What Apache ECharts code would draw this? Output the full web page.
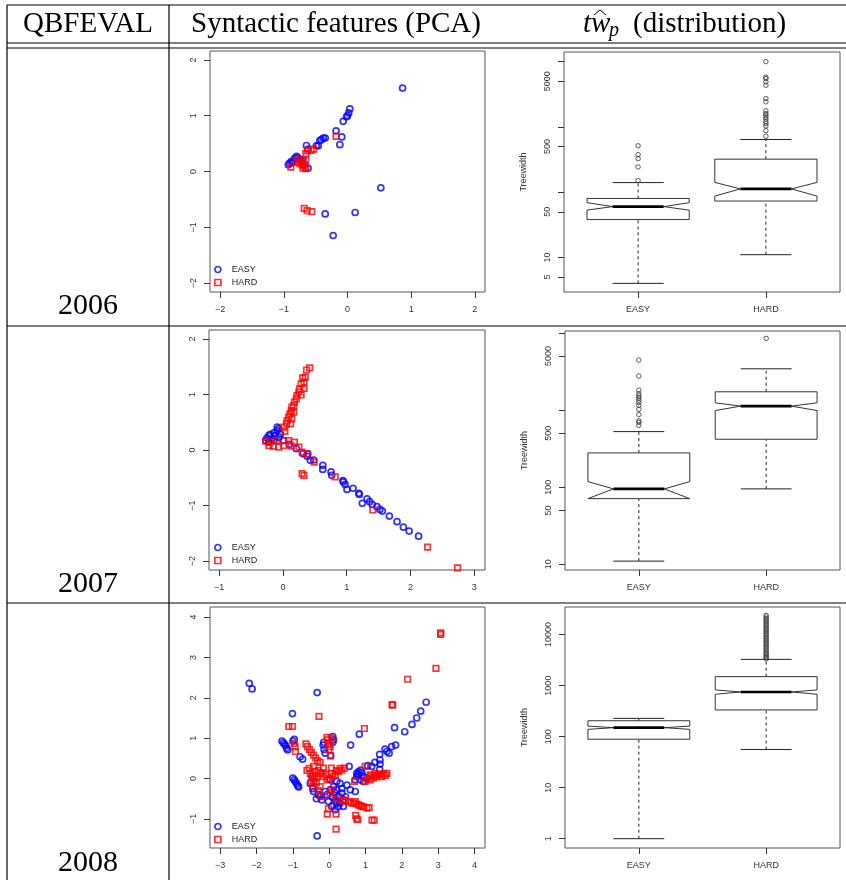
<!DOCTYPE html>
<html>
<head>
<meta charset="utf-8">
<script src="https://cdn.jsdelivr.net/npm/echarts@6/dist/echarts.min.js"></script>
<style>body{margin:0;background:#fff;}</style>
</head>
<body>
<div id="main" style="width:846px;height:880px;"></div>
<script>
var years = ['2006', '2007', '2008'];
var groups = ['EASY', 'HARD'];

// PCA scatter points [pc1, pc2]
var easy2006 = [[0.865,1.495],[0.037,1.124],[0.02,1.05],[0.0,1.0],[-0.016,0.98],[-0.068,0.90],[-0.18,0.73],
  [-0.09,0.62],[-0.12,0.48],[-0.35,0.60],[-0.38,0.60],[-0.41,0.57],[-0.435,0.556],[-0.46,0.46],[-0.49,0.46],
  [-0.645,0.466],[-0.62,0.40],[-0.8,0.27],[-0.83,0.24],[-0.88,0.18],[-0.91,0.15],[-0.93,0.12],[-0.75,0.21],
  [-0.70,0.21],[-0.62,0.06],[0.524,-0.293],[-0.35,-0.76],[0.12,-0.735],[-0.225,-1.148],[-0.78,0.25],
  [-0.86,0.16],[-0.72,0.18]];
var hard2006 = [[-0.18,0.63],[-0.53,0.40],[-0.57,0.38],[-0.63,0.37],[-0.655,0.32],[-0.655,0.20],[-0.775,0.215],
  [-0.80,0.17],[-0.75,0.14],[-0.71,0.12],[-0.67,0.09],[-0.70,0.06],[-0.655,0.05],[-0.89,0.08],[-0.68,-0.66],
  [-0.635,-0.70],[-0.56,-0.72],[-0.72,0.16],[-0.68,0.13]];

var easy2007 = [[2.128,-1.551],[1.98,-1.46],[1.89,-1.39],[1.79,-1.29],[1.67,-1.19],[1.56,-1.10],[1.52,-1.07],
  [1.475,-1.02],[1.40,-0.98],[1.36,-0.93],[1.32,-0.88],[1.245,-0.96],[1.20,-0.80],[1.19,-0.78],[1.10,-0.69],
  [1.005,-0.71],[0.975,-0.62],[0.95,-0.575],[0.94,-0.55],[0.765,-0.455],[0.755,-0.395],[0.625,-0.35],
  [0.625,-0.275],[0.483,-0.18],[0.43,-0.186],[0.38,-0.114],[0.39,-0.07],[0.316,-0.066],[0.21,0.024],
  [0.10,0.10],[0.01,0.17],[-0.065,0.383],[-0.09,0.35],[-0.14,0.31],[-0.2,0.28],[-0.22,0.26],[-0.25,0.22],
  [-0.27,0.17],[-0.04,0.29],[-0.12,0.26],[-0.17,0.20],[-0.22,0.14],[-0.065,0.23],[-0.14,0.17],[-0.09,0.41]];
var hard2007 = [[0.42,1.48],[0.37,1.44],[0.35,1.31],[0.31,1.30],[0.33,1.22],[0.33,1.11],[0.285,1.19],[0.26,1.10],
  [0.25,1.04],[0.285,0.99],[0.22,0.98],[0.21,0.92],[0.18,0.86],[0.17,0.80],[0.14,0.77],[0.13,0.71],[0.17,0.68],
  [0.11,0.65],[0.09,0.59],[0.14,0.56],[0.065,0.53],[0.055,0.47],[0.013,0.41],[0.12,0.47],[0.03,0.335],
  [-0.27,0.16],[-0.22,0.08],[-0.15,0.07],[-0.1,0.17],[-0.065,0.05],[0.013,0.08],[0.09,0.17],[0.18,0.14],
  [0.13,0.07],[0.25,0.05],[0.30,-0.04],[0.38,-0.07],[0.49,-0.22],[-0.2,0.14],[0.30,-0.425],[0.33,-0.455],
  [0.82,-0.485],[1.41,-1.08],[2.27,-1.75],[2.74,-2.12]];

var easy2008 = [[-2.20,2.36],[-2.12,2.22],[-0.33,2.13],[-1.01,1.61],[2.67,1.89],[2.52,1.67],[2.41,1.50],
  [2.28,1.34],[2.08,1.16],[1.80,1.26],[0.83,1.10],[0.59,0.83],[1.83,0.83],[1.72,0.79],[1.65,0.63],[1.59,0.67],
  [1.54,0.73],[1.39,0.60],[1.40,0.46],[1.40,0.36],[1.26,0.40],[1.17,0.30],[1.06,0.32],[1.39,0.23],
  [-1.30,0.93],[-1.26,0.89],[-1.23,0.85],[-1.19,0.81],[-1.17,0.75],[-1.14,0.71],[-1.0,0.93],[-0.96,0.97],
  [-0.80,0.54],[-0.73,0.48],[-1.0,0.01],[-0.96,-0.03],[-0.93,-0.08],[-0.89,-0.13],[-0.86,-0.18],[-0.84,-0.21],
  [-0.165,0.83],[-0.14,0.72],[-0.11,0.63],[0.10,1.04],[0.12,0.96],[0.04,0.57],
  [-0.48,0.05],[-0.52,-0.12],[-0.43,-0.32],[-0.25,-0.44],[-0.2,-0.53],[-0.06,-0.40],[0.03,-0.28],[0.12,-0.20],
  [0.21,-0.28],[0.26,-0.44],[0.17,-0.53],[0.07,-0.69],[0.17,-0.77],[0.30,-0.61],[0.39,-0.53],[0.35,-0.36],
  [0.21,-0.07],[0.30,-0.12],[0.49,-0.16],[0.58,-0.28],[0.72,-0.32],[0.55,0.30],[0.03,-0.03],[-0.11,-0.32],
  [-0.02,-0.57],[0.39,-0.69],[0.76,0.13],[0.81,0.17],[0.87,0.21],[0.76,0.05],[0.85,-0.03],[0.94,-0.07],
  [1.04,0.01],[0.72,-0.03],[-0.33,-1.42],[0.1,-0.45],[0.2,-0.6],[0.25,-0.7],[0.15,-0.35],[0.35,-0.25],
  [0.45,-0.45],[-0.35,-0.5],[-0.3,-0.4],[0.8,0.1],[0.9,0.15],[0.95,0.05],[-0.45,-0.25],[-0.15,0.9],[0.1,0.9]];
var hard2008 = [[3.07,3.57],[3.07,3.61],[2.94,2.73],[2.16,2.46],[1.73,1.83],[1.75,1.82],[0.97,1.24],[-0.28,1.54],
  [-1.11,1.29],[-1.01,1.29],[-0.96,0.87],[-0.94,0.79],[-0.93,0.67],[-0.64,0.86],[-0.6,0.79],[-0.54,0.72],
  [-0.49,0.65],[-0.43,0.58],[-0.37,0.51],[-0.32,0.44],[-0.25,0.40],[-0.06,1.02],[-0.04,0.96],[0.0,0.87],
  [0.03,0.79],[-0.01,0.71],[0.06,1.0],[0.04,0.56],[-0.61,0.20],[-0.52,0.13],
  [-0.43,0.30],[-0.39,0.17],[-0.34,0.05],[-0.43,-0.07],[-0.45,-0.2],[-0.25,0.13],[-0.16,0.05],[-0.06,-0.03],
  [0.07,0.13],[0.17,0.09],[0.26,0.17],[0.35,0.21],[0.42,0.26],[0.06,0.26],[-0.16,0.26],[-0.25,-0.2],
  [0.06,-0.28],[0.03,-0.36],[0.39,-0.53],[0.53,-0.57],[0.67,-0.61],[0.81,-0.65],[0.90,-0.69],[1.04,-0.73],
  [0.72,-0.57],[0.19,-0.51],[-0.02,-0.75],[-0.05,-0.88],[0.19,-0.88],[0.19,-1.25],[0.73,-0.91],[0.76,-1.0],
  [0.79,-1.02],[1.18,-1.03],[1.24,-1.03],[-0.22,-0.45],[0.70,-0.07],[0.99,-0.07],[1.13,-0.03],[1.22,0.01],
  [1.31,0.05],[1.40,0.09],[1.50,0.12],[1.59,0.13],[1.13,0.09],[1.27,0.13],[0.99,0.30],
  [-0.45,0.1],[-0.4,0.0],[-0.35,-0.1],[-0.3,0.2],[-0.2,0.15],[-0.1,0.1],[0.0,0.0],[0.1,0.05],[0.2,0.2],
  [0.3,0.25],[0.45,-0.55],[0.6,-0.6],[0.75,-0.63],[0.85,-0.67],[0.95,-0.7],[1.1,-0.72],[1.05,0.0],[1.15,0.05],
  [1.25,0.08],[1.35,0.1],[1.45,0.05],[1.55,0.08],[-0.5,-0.1],[-0.55,0.25],[-0.3,-0.3]];

// notched box stats: [lowWhisker, q1, notchLow, median, notchHigh, q3, highWhisker]
var box2006 = [[4, 38, 53, 60, 69, 80, 140], [11, 73, 87, 112, 141, 320, 640]];
var box2007 = [[11, 71, 71, 95, 118, 278, 525], [95, 418, 984, 1122, 1240, 1722, 3420]];
var box2008 = [[1, 89, 139, 150, 161, 205, 228], [56, 334, 677, 751, 823, 1500, 3270]];

var out2006Easy = [150, 243, 326, 375, 513];
var out2006Hard = [720, 877, 1035, 1123, 1204, 1320, 1420, 1520, 1600, 1762, 2420, 2715, 4345, 4886, 5494, 5760, 10000];
var out2007Easy = [635, 692, 725, 875, 1023, 1150, 1250, 1340, 1435, 1524, 1625, 1808, 2754, 4437];
var out2007Hard = [8475];
var out2008Easy = [];
var out2008Hard = [3343, 3548, 3773, 4008, 4257, 4585, 4940, 5325, 5737, 6190, 6671, 7191, 7745, 8357, 8995,
  9706, 10462, 11272, 12155, 13093, 14128, 15212, 16406, 17701, 19055, 20555, 22130, 23880];

// axis ranges and ticks
var scatterX = [[-2.16, 2.16], [-1.16, 3.17], [-3.28, 4.29]];
var scatterY = [[-2.16, 2.16], [-2.16, 2.16], [-1.72, 4.25]];
var scatterXTicks = [[-2, -1, 0, 1, 2], [-1, 0, 1, 2, 3], [-3, -2, -1, 0, 1, 2, 3, 4]];
var scatterYTicks = [[-2, -1, 0, 1, 2], [-2, -1, 0, 1, 2], [-1, 0, 1, 2, 3, 4]];
var boxX = [0.42, 2.58];
var boxY = [[2.95, 14030], [8.44, 10570], [0.657, 34760]];
var boxYTicks = [[5, 10, 50, 100, 500, 1000, 5000, 10000], [10, 50, 100, 500, 1000, 5000, 10000], [1, 10, 100, 1000, 10000]];
var boxYLabels = [[5, 10, 50, 500, 5000], [10, 50, 100, 500, 5000], [1, 10, 100, 1000, 10000]];

var easyPts = [easy2006, easy2007, easy2008];
var hardPts = [hard2006, hard2007, hard2008];
var boxes = [box2006, box2007, box2008];
var outEasy = [out2006Easy, out2007Easy, out2008Easy];
var outHard = [out2006Hard, out2007Hard, out2008Hard];

var chart = echarts.init(document.getElementById('main'));

var scatterRect = [
  {left: 210, top: 51, width: 275, height: 241},
  {left: 209, top: 330, width: 276, height: 240},
  {left: 210, top: 607, width: 275, height: 241}
];
var boxRect = [
  {left: 564, top: 52, width: 276, height: 240},
  {left: 565, top: 331, width: 275, height: 239},
  {left: 565, top: 607, width: 275, height: 241}
];
var legendTop = [265, 543, 822];

var font = 'Liberation Sans';
function minus(v) { return String(v).replace('-', '\u2212'); }
function tick(vals) {
  return {show: true, inside: false, length: 6, customValues: vals, lineStyle: {color: '#333', width: 1}};
}
function label(vals, extra) {
  var l = {show: true, customValues: vals, fontSize: 9, color: '#333', fontFamily: font, margin: 12, formatter: minus};
  for (var k in extra) l[k] = extra[k];
  return l;
}
var noLine = {show: false, onZero: false};

var grids = [], xAxes = [], yAxes = [], series = [], legends = [];
var openEasy = {color: 'rgba(0,0,0,0)', borderColor: '#0000ff', borderWidth: 1.7};
var openHard = {color: 'rgba(0,0,0,0)', borderColor: '#ff0000', borderWidth: 1.7};

function notchedBox(params, api) {
  var x = api.value(0);
  var lo = api.value(1), q1 = api.value(2), nlo = api.value(3), med = api.value(4),
      nhi = api.value(5), q3 = api.value(6), hi = api.value(7);
  function pt(dx, v) { return api.coord([x + dx, v]); }
  function seg(a, b) { return {x1: a[0], y1: a[1], x2: b[0], y2: b[1]}; }
  var dashed = {stroke: '#222', lineWidth: 1, lineDash: [3, 3]};
  var solid = {stroke: '#222', lineWidth: 1};
  var w = 0.4, n = 0.2;
  return {type: 'group', children: [
    {type: 'line', shape: seg(pt(0, lo), pt(0, q1)), style: dashed},
    {type: 'line', shape: seg(pt(0, q3), pt(0, hi)), style: dashed},
    {type: 'line', shape: seg(pt(-n, lo), pt(n, lo)), style: solid},
    {type: 'line', shape: seg(pt(-n, hi), pt(n, hi)), style: solid},
    {type: 'polygon', shape: {points: [pt(-w, q1), pt(w, q1), pt(w, nlo), pt(n, med), pt(w, nhi), pt(w, q3),
      pt(-w, q3), pt(-w, nhi), pt(-n, med), pt(-w, nlo)]}, style: {fill: '#fff', stroke: '#333', lineWidth: 1}},
    {type: 'line', shape: seg(pt(-n, med), pt(n, med)), style: {stroke: '#000', lineWidth: 2.6}}
  ]};
}

years.forEach(function (yr, i) {
  var g = 2 * i;
  grids.push(Object.assign({show: true, borderColor: '#555', borderWidth: 1, backgroundColor: 'transparent'}, scatterRect[i]));
  grids.push(Object.assign({show: true, borderColor: '#555', borderWidth: 1, backgroundColor: 'transparent'}, boxRect[i]));

  xAxes.push({gridIndex: g, type: 'value', position: 'bottom', min: scatterX[i][0], max: scatterX[i][1],
    axisLine: noLine, splitLine: {show: false}, axisTick: tick(scatterXTicks[i]),
    axisLabel: label(scatterXTicks[i], {margin: 13})});
  yAxes.push({gridIndex: g, type: 'value', position: 'left', min: scatterY[i][0], max: scatterY[i][1],
    axisLine: noLine, splitLine: {show: false}, axisTick: tick(scatterYTicks[i]),
    axisLabel: label(scatterYTicks[i], {rotate: 90})});

  xAxes.push({gridIndex: g + 1, type: 'value', position: 'bottom', min: boxX[0], max: boxX[1],
    axisLine: noLine, splitLine: {show: false}, axisTick: tick([1, 2]),
    axisLabel: label([1, 2], {margin: 13, formatter: function (v) { return groups[v - 1]; }})});
  yAxes.push({gridIndex: g + 1, type: 'log', logBase: 10, position: 'left', min: boxY[i][0], max: boxY[i][1],
    axisLine: noLine, splitLine: {show: false}, axisTick: tick(boxYTicks[i]),
    axisLabel: label(boxYLabels[i], {rotate: 90, formatter: function (v) { return String(v); }}),
    name: 'Treewidth', nameLocation: 'middle', nameRotate: 90, nameGap: 36,
    nameTextStyle: {fontSize: 9, color: '#333', fontFamily: font}});

  series.push({name: 'EASY', type: 'scatter', xAxisIndex: g, yAxisIndex: g, data: easyPts[i],
    symbol: 'circle', symbolSize: 6, itemStyle: openEasy, silent: true});
  series.push({name: 'HARD', type: 'scatter', xAxisIndex: g, yAxisIndex: g, data: hardPts[i],
    symbol: 'rect', symbolSize: 5.5, itemStyle: openHard, silent: true});

  series.push({name: 'box' + yr, type: 'custom', xAxisIndex: g + 1, yAxisIndex: g + 1,
    renderItem: notchedBox, encode: {x: 0, y: [1, 2, 3, 4, 5, 6, 7]},
    data: boxes[i].map(function (s, k) { return [k + 1].concat(s); }), silent: true});
  var outs = outEasy[i].map(function (v) { return [1, v]; }).concat(outHard[i].map(function (v) { return [2, v]; }));
  series.push({name: 'out' + yr, type: 'scatter', xAxisIndex: g + 1, yAxisIndex: g + 1, data: outs,
    symbol: 'circle', symbolSize: 4.5, itemStyle: {color: 'rgba(0,0,0,0)', borderColor: '#333', borderWidth: 1}, silent: true});

  legends.push({orient: 'vertical', left: 214, top: legendTop[i], padding: 0, itemWidth: 6, itemHeight: 6, itemGap: 4,
    selectedMode: false, textStyle: {fontSize: 9, color: '#222', fontFamily: font, padding: [0, 0, 0, 6]},
    data: [{name: 'EASY', icon: 'circle', itemStyle: openEasy}, {name: 'HARD', icon: 'rect', itemStyle: openHard}]});
});

// table rules and cell text
var graphic = [];
[[7, 5, 846, 5], [7, 43, 846, 43], [7, 48, 846, 48], [7, 326, 846, 326], [7, 603, 846, 603],
 [7, 5, 7, 880], [169, 5, 169, 880]].forEach(function (r) {
  graphic.push({type: 'line', silent: true, z: 100, shape: {x1: r[0], y1: r[1], x2: r[2], y2: r[3]},
    style: {stroke: '#000', lineWidth: 1.2}});
});
var serif = 'Liberation Serif';
function cellText(txt, x, y, size, align, italic) {
  graphic.push({type: 'text', silent: true, z: 100, x: x, y: y, style: {text: txt, fill: '#000',
    font: (italic ? 'italic ' : '') + size + 'px "' + serif + '"', align: align, verticalAlign: 'middle'}});
}
cellText('QBFEVAL', 88, 24, 29, 'center');
cellText('Syntactic features (PCA)', 336, 24, 29, 'center');
cellText('tw', 583, 24, 29, 'left', true);
cellText('p', 609, 31, 20, 'left', true);
cellText('(distribution)', 633, 24, 29, 'left');
graphic.push({type: 'polyline', silent: true, z: 100, shape: {points: [[594, 15], [600, 10], [606, 15]]},
  style: {stroke: '#000', lineWidth: 1, fill: null}});
cellText(years[0], 88, 306, 30, 'center');
cellText(years[1], 88, 584, 30, 'center');
cellText(years[2], 88, 863, 30, 'center');

chart.setOption({
  animation: false,
  textStyle: {fontFamily: font},
  grid: grids,
  xAxis: xAxes,
  yAxis: yAxes,
  legend: legends,
  series: series,
  graphic: graphic
});
</script>
</body>
</html>
